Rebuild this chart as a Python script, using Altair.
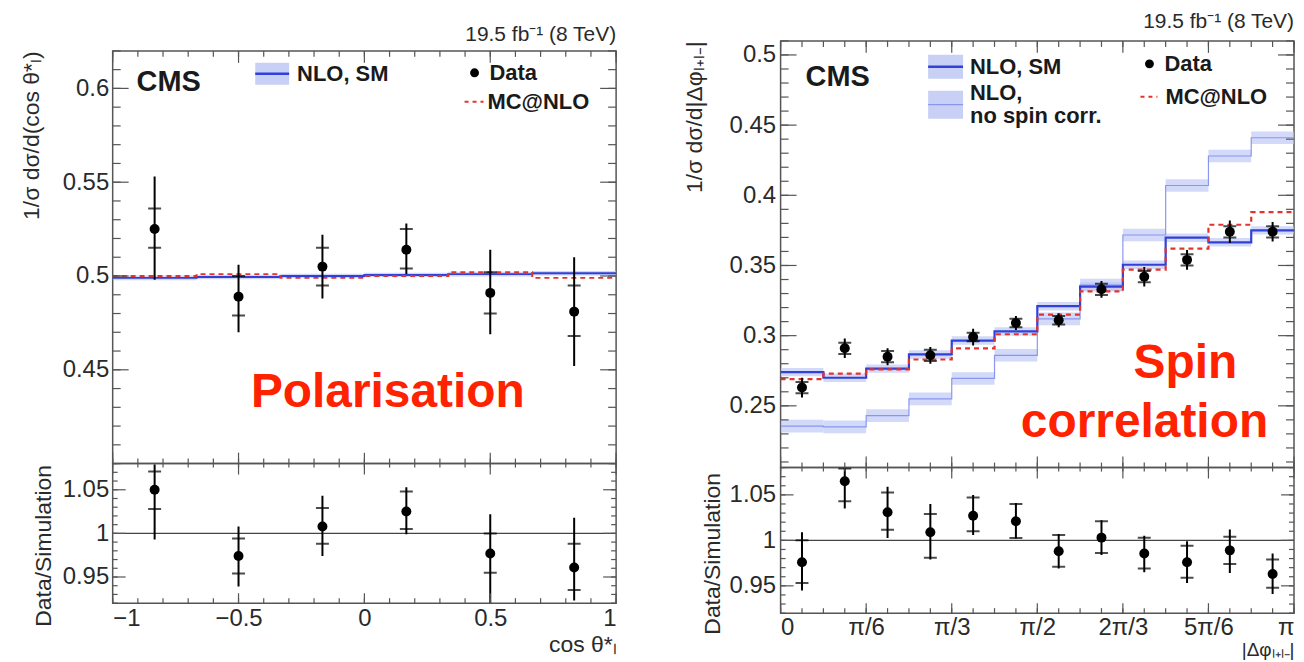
import altair as alt
import numpy as np
import pandas as pd

FONT = "Liberation Sans"
TXT = "#1a1a1a"
AXTXT = "#2a2a2a"
FRAME = "#555555"
BLUE = "#3040d8"
BLUE_LIGHT = "#8a96ee"
HATCH = "#bcc4f4"
MC_RED = "#e3342b"
LABEL_RED = "#ff2200"

# ---------------- Polarisation (left) ----------------
pol_edges = [-1.0, -2 / 3, -1 / 3, 0.0, 1 / 3, 2 / 3, 1.0]
pol_centers = [-5 / 6, -1 / 2, -1 / 6, 1 / 6, 1 / 2, 5 / 6]
pol_data = [0.525, 0.489, 0.505, 0.514, 0.491, 0.481]
pol_stat_hi = [0.536, 0.500, 0.515, 0.525, 0.502, 0.495]
pol_stat_lo = [0.515, 0.479, 0.495, 0.504, 0.480, 0.468]
pol_tot_hi = [0.553, 0.506, 0.522, 0.528, 0.514, 0.510]
pol_tot_lo = [0.498, 0.470, 0.488, 0.501, 0.469, 0.452]
pol_nlo = [0.4990, 0.4995, 0.5000, 0.5005, 0.5010, 0.5015]
pol_nlo_unc = [0.0012, 0.0012, 0.0012, 0.0012, 0.0012, 0.0012]
pol_mc = [0.5000, 0.5010, 0.4990, 0.5000, 0.5020, 0.4990]
pol_ratio = [1.050, 0.974, 1.008, 1.025, 0.977, 0.961]
pol_ratio_stat_hi = [1.071, 0.994, 1.029, 1.048, 1.000, 0.988]
pol_ratio_stat_lo = [1.028, 0.954, 0.988, 1.005, 0.955, 0.935]
pol_ratio_tot_hi = [1.079, 1.008, 1.043, 1.053, 1.022, 1.018]
pol_ratio_tot_lo = [0.993, 0.939, 0.974, 0.999, 0.920, 0.923]
pol_x_ticks = [-1, -0.5, 0, 0.5, 1]
pol_y_ticks = [0.45, 0.5, 0.55, 0.6]
ratio_y_ticks = [0.95, 1.0, 1.05]

# ---------------- Spin correlation (right) ----------------
spin_edges = [k * np.pi / 12 for k in range(13)]
spin_centers = [(k + 0.5) * np.pi / 12 for k in range(12)]
spin_data = [0.263, 0.291, 0.285, 0.286, 0.299, 0.309, 0.311, 0.333, 0.342, 0.354, 0.374, 0.374]
spin_stat_err = [0.004, 0.004, 0.004, 0.004, 0.003, 0.003, 0.003, 0.004, 0.004, 0.004, 0.004, 0.004]
spin_tot_err = [0.007, 0.007, 0.006, 0.006, 0.006, 0.005, 0.005, 0.006, 0.007, 0.007, 0.008, 0.007]
spin_nlo = [0.274, 0.270, 0.2765, 0.2866, 0.2965, 0.303, 0.321, 0.335, 0.3505, 0.3698, 0.3665, 0.375]
spin_nlo_unc = [0.003] * 12
spin_nospin = [0.2355, 0.235, 0.243, 0.255, 0.2695, 0.286, 0.312, 0.336, 0.3717, 0.407, 0.428, 0.441]
spin_nospin_unc = [0.0045] * 12
spin_mc = [0.269, 0.273, 0.276, 0.283, 0.291, 0.301, 0.315, 0.3316, 0.347, 0.362, 0.379, 0.388]
spin_ratio = [0.976, 1.065, 1.031, 1.009, 1.027, 1.021, 0.988, 1.003, 0.9855, 0.976, 0.989, 0.963]
spin_ratio_stat_hi = [1.000, 1.079, 1.0525, 1.029, 1.047, 1.040, 1.006, 1.021, 1.003, 0.994, 1.004, 0.979]
spin_ratio_stat_lo = [0.953, 1.043, 1.0116, 0.981, 1.010, 1.0025, 0.971, 0.986, 0.969, 0.959, 0.974, 0.948]
spin_ratio_tot_hi = [1.009, 1.080, 1.059, 1.040, 1.050, 1.041, 1.007, 1.022, 1.005, 0.999, 1.012, 0.9855]
spin_ratio_tot_lo = [0.945, 1.035, 1.0025, 0.979, 1.006, 1.002, 0.969, 0.984, 0.965, 0.953, 0.964, 0.941]
spin_x_ticks = [k * np.pi / 6 for k in range(7)]
spin_x_labels = ["0", "π/6", "π/3", "π/2", "2π/3", "5π/6", "π"]
spin_y_ticks = [0.25, 0.3, 0.35, 0.4, 0.45, 0.5]

one = pd.DataFrame({"d": [0]})


def rng(a, b, s):
    return [round(v, 4) for v in np.arange(a, b + s / 2, s)]


class Panel:
    def __init__(self, xs, ys, xaxis, yaxis):
        self.xs, self.ys, self.xaxis, self.yaxis = xs, ys, xaxis, yaxis

    def X(self, f):
        return alt.X(f, type="quantitative", scale=self.xs, axis=self.xaxis)

    def Y(self, f):
        return alt.Y(f, type="quantitative", scale=self.ys, axis=self.yaxis)


def tick_layers(P, W, H, xmaj, xmin, ymaj, ymin, Lxb, Lxt, Ly):
    """Ticks pointing inwards on all four sides; L* = (major, minor) lengths."""
    layers = []
    for vals, L in ((ymaj, Ly[0]), (ymin, Ly[1])):
        base = alt.Chart(pd.DataFrame({"v": vals})).mark_rule(color=FRAME, strokeWidth=1.2)
        layers.append(base.encode(y=P.Y("v"), x=alt.value(0), x2=alt.value(L)))
        layers.append(base.encode(y=P.Y("v"), x=alt.value(W - L), x2=alt.value(W)))
    for vals, Lb, Lt in ((xmaj, Lxb[0], Lxt[0]), (xmin, Lxb[1], Lxt[1])):
        base = alt.Chart(pd.DataFrame({"v": vals})).mark_rule(color=FRAME, strokeWidth=1.2)
        layers.append(base.encode(x=P.X("v"), y=alt.value(H - Lb), y2=alt.value(H)))
        layers.append(base.encode(x=P.X("v"), y=alt.value(0), y2=alt.value(Lt)))
    return layers


def txt(text, x, y, size=22, weight="bold", color=TXT, align="left", baseline="middle", opacity=1.0):
    return alt.Chart(one).mark_text(
        text=text, font=FONT, fontSize=size, fontWeight=weight, color=color,
        align=align, baseline=baseline, opacity=opacity
    ).encode(x=alt.value(x), y=alt.value(y))


def sym_band(x1, x2, yc, half):
    return alt.Chart(one).mark_rect(color=HATCH, opacity=0.8).encode(
        x=alt.value(x1), x2=alt.value(x2), y=alt.value(yc - half), y2=alt.value(yc + half))


def sym_line(x1, x2, y, color, width=2.0, dash=None):
    kw = {"strokeDash": dash} if dash else {}
    return alt.Chart(one).mark_rule(color=color, strokeWidth=width, **kw).encode(
        x=alt.value(x1), x2=alt.value(x2), y=alt.value(y))


def sym_dot(x, y):
    return alt.Chart(one).mark_circle(size=80, color="black", opacity=1).encode(x=alt.value(x), y=alt.value(y))


def step_line(P, edges, vals, color, width=2.0, dash=None):
    df = pd.DataFrame({"x": edges, "y": list(vals) + [vals[-1]]})
    kw = {"strokeDash": dash} if dash else {}
    return alt.Chart(df).mark_line(interpolate="step-after", color=color, strokeWidth=width, clip=True, **kw).encode(
        x=P.X("x"), y=P.Y("y"))


def band(P, edges, vals, unc, opacity=0.7):
    df = pd.DataFrame({"lo": edges[:-1], "hi": edges[1:],
                       "blo": [v - u for v, u in zip(vals, unc)],
                       "bhi": [v + u for v, u in zip(vals, unc)]})
    return alt.Chart(df).mark_rect(color=HATCH, opacity=opacity, clip=True).encode(
        x=P.X("lo"), x2="hi:Q", y=P.Y("blo"), y2="bhi:Q")


def points(P, centers, vals, slo, shi, tlo, thi):
    df = pd.DataFrame({"c": centers, "v": vals, "slo": slo, "shi": shi, "tlo": tlo, "thi": thi})
    base = alt.Chart(df)
    dots = base.mark_circle(size=100, color="black", opacity=1, clip=True).encode(x=P.X("c"), y=P.Y("v"))
    bars = base.mark_rule(color="black", strokeWidth=2, clip=True).encode(x=P.X("c"), y=P.Y("tlo"), y2="thi:Q")
    t1 = base.mark_tick(orient="horizontal", size=13, thickness=2, color="black", clip=True).encode(
        x=P.X("c"), y=P.Y("shi"))
    t2 = base.mark_tick(orient="horizontal", size=13, thickness=2, color="black", clip=True).encode(
        x=P.X("c"), y=P.Y("slo"))
    return [bars, t1, t2, dots]


def unity(P):
    return alt.Chart(one).mark_rule(color="#444", strokeWidth=1.3).encode(
        y=alt.Y(datum=1.0, type="quantitative", scale=P.ys, axis=P.yaxis))


# ================= LEFT =================
WL, HLU, HLR = 505, 414, 140
xsL = alt.Scale(domain=[-1, 1], zero=False, nice=False)
ysLU = alt.Scale(domain=[0.40, 0.62], zero=False, nice=False)
ysLR = alt.Scale(domain=[0.92, 1.08], zero=False, nice=False)

axLU = alt.Axis(values=pol_y_ticks, labelExpr="format(datum.value, '.2~f')", title="1/σ dσ/d(cos θ*ₗ)",
                titleAnchor="end", titlePadding=19, labelPadding=4)
PLU = Panel(xsL, ysLU, None, axLU)
left_upper = alt.layer(
    band(PLU, pol_edges, pol_nlo, pol_nlo_unc),
    step_line(PLU, pol_edges, pol_nlo, BLUE, 2.0),
    step_line(PLU, pol_edges, pol_mc, MC_RED, 2.0, [5, 4]),
    *points(PLU, pol_centers, pol_data, pol_stat_lo, pol_stat_hi, pol_tot_lo, pol_tot_hi),
    *tick_layers(PLU, WL, HLU, pol_x_ticks, rng(-1, 1, 0.1), pol_y_ticks, rng(0.40, 0.62, 0.01),
                 (11, 5), (12, 6), (16, 8)),
    txt("CMS", 24, 31, size=29),
    txt("19.5 fb⁻¹ (8 TeV)", WL, -16, size=21, weight="normal", align="right", color=AXTXT),
    txt(".", 0, -41, size=10, baseline="top", opacity=0.0),
    sym_band(143, 177, 23, 11), sym_line(143, 177, 23, BLUE, 2.5),
    txt("NLO, SM", 185, 23, size=22),
    sym_dot(363, 22), txt("Data", 378, 22, size=22),
    sym_line(353, 372, 51, MC_RED, 2.0, [4, 4]), txt("MC@NLO", 376, 51, size=22),
    txt("Polarisation", 276, 343, size=48, color=LABEL_RED, align="center"),
).properties(width=WL, height=HLU)

axLRy = alt.Axis(values=ratio_y_ticks, labelExpr="format(datum.value, '.2~f')", title="Data/Simulation",
                 titlePadding=7, labelPadding=4, titleY=82)
axLRx = alt.Axis(values=pol_x_ticks, labelExpr="format(datum.value, '.1~f')", title="cos θ*ₗ",
                 titleAnchor="end", titlePadding=3, labelPadding=3)
PLR = Panel(xsL, ysLR, axLRx, axLRy)
left_ratio = alt.layer(
    unity(PLR),
    *points(PLR, pol_centers, pol_ratio, pol_ratio_stat_lo, pol_ratio_stat_hi, pol_ratio_tot_lo, pol_ratio_tot_hi),
    *tick_layers(PLR, WL, HLR, pol_x_ticks, rng(-1, 1, 0.1), ratio_y_ticks, rng(0.92, 1.08, 0.01),
                 (10, 5), (11, 4), (13, 5)),
).properties(width=WL, height=HLR)

spacer = alt.Chart(one).mark_point(opacity=0).encode(
    x=alt.value(0), y=alt.value(0)
).properties(width=WL, height=10, view=alt.ViewBackground(strokeOpacity=0))

left = alt.vconcat(spacer, left_upper, left_ratio, spacing=0, bounds="flush")

# ================= RIGHT =================
WR, HRU, HRR = 515, 428, 146
xsR = alt.Scale(domain=[0, np.pi], zero=False, nice=False)
ysRU = alt.Scale(domain=[0.206, 0.51], zero=False, nice=False)
ysRR = alt.Scale(domain=[0.92, 1.08], zero=False, nice=False)

axRU = alt.Axis(values=spin_y_ticks, labelExpr="format(datum.value, '.2~f')", title="1/σ dσ/d|Δφₗ₊ₗ₋|",
                titleAnchor="end", titlePadding=23, labelPadding=5)
PRU = Panel(xsR, ysRU, None, axRU)
s_lo = [v - e for v, e in zip(spin_data, spin_stat_err)]
s_hi = [v + e for v, e in zip(spin_data, spin_stat_err)]
t_lo = [v - e for v, e in zip(spin_data, spin_tot_err)]
t_hi = [v + e for v, e in zip(spin_data, spin_tot_err)]
right_upper = alt.layer(
    band(PRU, spin_edges, spin_nospin, spin_nospin_unc, 0.65),
    band(PRU, spin_edges, spin_nlo, spin_nlo_unc, 0.65),
    step_line(PRU, spin_edges, spin_nospin, BLUE_LIGHT, 1.2),
    step_line(PRU, spin_edges, spin_nlo, BLUE, 2.2),
    step_line(PRU, spin_edges, spin_mc, MC_RED, 2.2, [5, 4]),
    *points(PRU, spin_centers, spin_data, s_lo, s_hi, t_lo, t_hi),
    *tick_layers(PRU, WR, HRU, spin_x_ticks, [k * np.pi / 24 for k in range(25)], spin_y_ticks,
                 rng(0.21, 0.51, 0.01), (11, 5), (12, 6), (16, 8)),
    txt("CMS", 25, 36, size=29),
    txt("19.5 fb⁻¹ (8 TeV)", WR, -19, size=21, weight="normal", align="right", color=AXTXT),
    txt(".", 0, -31, size=10, baseline="top", opacity=0.0),
    sym_band(148, 183, 26, 12), sym_line(148, 183, 26, BLUE, 2.5),
    txt("NLO, SM", 190, 26, size=22),
    sym_band(148, 183, 64, 14), sym_line(148, 183, 64, BLUE_LIGHT, 1.2),
    txt("NLO,", 190, 52, size=22), txt("no spin corr.", 190, 75, size=22),
    sym_dot(370, 23), txt("Data", 385, 23, size=22),
    sym_line(361, 378, 56, MC_RED, 2.0, [4, 4]), txt("MC@NLO", 386, 56, size=22),
    txt("Spin", 406, 324, size=48, color=LABEL_RED, align="center"),
    txt("correlation", 365, 383, size=48, color=LABEL_RED, align="center"),
).properties(width=WR, height=HRU)

axRRy = alt.Axis(values=ratio_y_ticks, labelExpr="format(datum.value, '.2~f')", title="Data/Simulation",
                 titlePadding=5, labelPadding=5, titleY=86)
axRRx = alt.Axis(values=spin_x_ticks,
                 labelExpr="['0','π/6','π/3','π/2','2π/3','5π/6','π'][round(datum.value*6/PI)]",
                 title="|Δφₗ₊ₗ₋|", titleAnchor="end", titlePadding=1, titleFontSize=19, labelPadding=2)
PRR = Panel(xsR, ysRR, axRRx, axRRy)
right_ratio = alt.layer(
    unity(PRR),
    *points(PRR, spin_centers, spin_ratio, spin_ratio_stat_lo, spin_ratio_stat_hi, spin_ratio_tot_lo,
            spin_ratio_tot_hi),
    *tick_layers(PRR, WR, HRR, spin_x_ticks, [k * np.pi / 24 for k in range(25)], ratio_y_ticks,
                 rng(0.92, 1.08, 0.01), (10, 5), (11, 4), (13, 5)),
).properties(width=WR, height=HRR)

right = alt.vconcat(right_upper, right_ratio, spacing=0, bounds="flush")

chart = alt.hconcat(left, right, spacing=64).properties(
    padding={"left": 11, "top": 0, "right": 0, "bottom": 0}, background="white"
).configure_view(stroke=FRAME, strokeWidth=1.5).configure_axis(
    grid=False, domain=False, ticks=False,
    labelFont=FONT, labelFontSize=24, labelColor=AXTXT,
    titleFont=FONT, titleFontSize=23, titleColor=AXTXT, titleFontWeight="normal",
)

chart.save("out.html", embed_options={"renderer": "svg", "actions": False})
